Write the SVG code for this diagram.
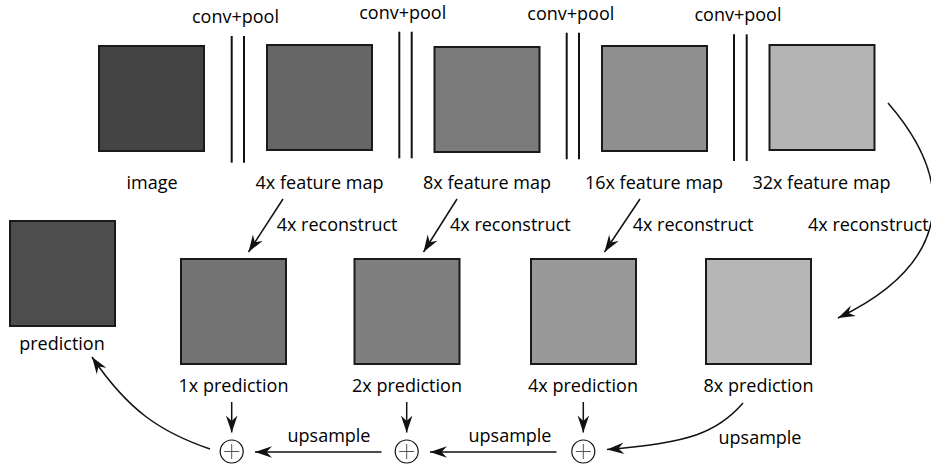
<svg xmlns="http://www.w3.org/2000/svg" width="931" height="468" viewBox="0 0 931 468">
<style>
text{font-family:"Open Sans","DejaVu Sans",sans-serif;font-size:18px;fill:#000;}
.c{text-anchor:middle;}
.box{stroke:#1a1a1a;stroke-width:2;}
.dl{stroke:#111;stroke-width:2;}
.ar{fill:none;stroke:#111;stroke-width:1.5;marker-end:url(#ah);}
.plus{fill:#fff;stroke:#111;stroke-width:1.2;}
.pl{stroke:#555;stroke-width:1;}
</style>
<defs>
<marker id="ah" markerUnits="userSpaceOnUse" markerWidth="20" markerHeight="14" refX="0" refY="0" viewBox="-18 -7 20 14" orient="auto" overflow="visible">
<path d="M0,0 L-17,-5.8 L-11.5,0 L-17,5.8 Z" fill="#111"/>
</marker>
</defs>
<rect width="931" height="468" fill="#fff"/>
<g id="image"><rect class="box" x="99" y="46" width="105" height="105" fill="#444"/><text class="c" x="152" y="189">image</text></g>
<g id="fm4"><rect class="box" x="267" y="45" width="105" height="105" fill="#666"/><text class="c" x="319.5" y="189">4x feature map</text></g>
<g id="fm8"><rect class="box" x="434.5" y="47" width="105" height="105" fill="#7b7b7b"/><text class="c" x="487" y="189">8x feature map</text></g>
<g id="fm16"><rect class="box" x="602" y="46" width="105" height="105" fill="#8f8f8f"/><text class="c" x="654" y="189">16x feature map</text></g>
<g id="fm32"><rect class="box" x="769.5" y="45" width="105" height="105" fill="#b4b4b4"/><text class="c" x="821.5" y="189">32x feature map</text></g>
<g id="conv1"><line class="dl" x1="231.7" y1="36" x2="231.7" y2="162.7"/><line class="dl" x1="244" y1="36" x2="244" y2="162.7"/><text class="c" x="235.5" y="23">conv+pool</text></g>
<g id="conv2"><line class="dl" x1="399.3" y1="31.7" x2="399.3" y2="158.3"/><line class="dl" x1="411.7" y1="31.7" x2="411.7" y2="158.3"/><text class="c" x="402.7" y="18.5">conv+pool</text></g>
<g id="conv3"><line class="dl" x1="566.7" y1="32.7" x2="566.7" y2="159.3"/><line class="dl" x1="579" y1="32.7" x2="579" y2="159.3"/><text class="c" x="570.8" y="20">conv+pool</text></g>
<g id="conv4"><line class="dl" x1="734" y1="34.3" x2="734" y2="161"/><line class="dl" x1="746.7" y1="34.3" x2="746.7" y2="161"/><text class="c" x="738" y="20.7">conv+pool</text></g>
<g id="prediction"><rect class="box" x="10" y="221" width="105" height="105" fill="#4d4d4d"/><text class="c" x="62" y="350">prediction</text></g>
<g id="p1"><rect class="box" x="181" y="259" width="105" height="105" fill="#737373"/><text class="c" x="233.5" y="392">1x prediction</text></g>
<g id="p2"><rect class="box" x="354.5" y="259" width="105" height="105" fill="#7f7f7f"/><text class="c" x="407" y="392">2x prediction</text></g>
<g id="p4"><rect class="box" x="531" y="259" width="105" height="105" fill="#999"/><text class="c" x="583" y="392">4x prediction</text></g>
<g id="p8"><rect class="box" x="706" y="259" width="105" height="105" fill="#b6b6b6"/><text class="c" x="758.5" y="392">8x prediction</text></g>
<g id="sum1"><circle class="plus" cx="231.7" cy="451.5" r="11.5"/><line class="pl" x1="224.2" y1="451.5" x2="239.2" y2="451.5"/><line class="pl" x1="231.7" y1="444" x2="231.7" y2="459"/></g>
<g id="sum2"><circle class="plus" cx="406.7" cy="451.5" r="11.5"/><line class="pl" x1="399.2" y1="451.5" x2="414.2" y2="451.5"/><line class="pl" x1="406.7" y1="444" x2="406.7" y2="459"/></g>
<g id="sum3"><circle class="plus" cx="583.3" cy="451.5" r="11.5"/><line class="pl" x1="575.8" y1="451.5" x2="590.8" y2="451.5"/><line class="pl" x1="583.3" y1="444" x2="583.3" y2="459"/></g>
<g id="connectors">
<path class="ar" d="M283 199 L248.5 252"/>
<path class="ar" d="M457 199 L423.5 252"/>
<path class="ar" d="M640 199 L604.5 252"/>
<path class="ar" d="M888 103 C955 180 955 262 838 318"/>
<path class="ar" d="M231.7 402 L231.7 432.5"/>
<path class="ar" d="M406.7 402 L406.7 432.5"/>
<path class="ar" d="M583.3 402 L583.3 432.5"/>
<path class="ar" d="M381.5 452 L255 452"/>
<path class="ar" d="M556.5 452 L430 452"/>
<path class="ar" d="M743 403 C718 432 690 443 607 449.5"/>
<path class="ar" d="M210 449 C160 432 128 410 92 357"/>
<text x="276.7" y="231">4x reconstruct</text>
<text x="450" y="231">4x reconstruct</text>
<text x="632.7" y="231">4x reconstruct</text>
<text x="808" y="231">4x reconstruct</text>
<text class="c" x="329" y="441.5">upsample</text>
<text class="c" x="510" y="441.5">upsample</text>
<text class="c" x="760" y="443.5">upsample</text>
</g>
</svg>
